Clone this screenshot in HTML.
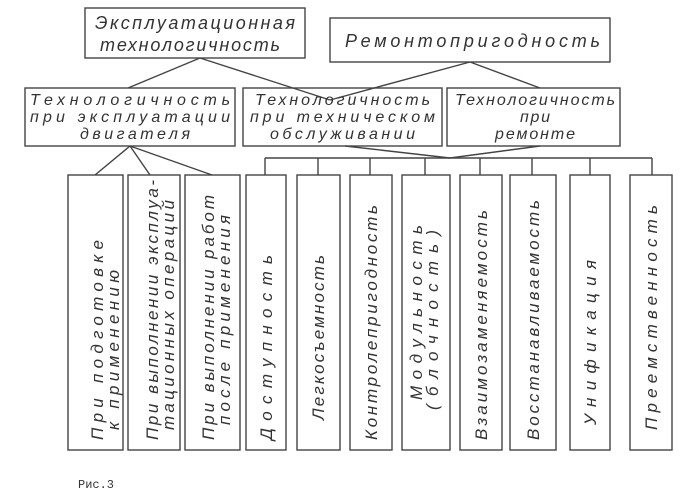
<!DOCTYPE html>
<html><head><meta charset="utf-8"><style>
body{margin:0;background:#fff;}
svg text{font-family:"Liberation Sans",sans-serif;font-style:italic;fill:#333;}
</style></head><body>
<svg width="695" height="493" viewBox="0 0 695 493" xmlns="http://www.w3.org/2000/svg">
<g fill="none" stroke="#444" stroke-width="1.4">
<rect x="85" y="8" width="220" height="50"/>
<rect x="330" y="18" width="280" height="44"/>
<rect x="25" y="88" width="210" height="58"/>
<rect x="243" y="88" width="199" height="58"/>
<rect x="447" y="88" width="173" height="58"/>
<path d="M200 58 L128 88 M200 58 L330 100 M470 62 L330 100 M470 62 L540 88"/>
<path d="M130 146 L95 175 M130 146 L150 175 M130 146 L212 175"/>
<path d="M345 146 L450 158 L540 146"/>
<path d="M265 158 L652 158"/>
<rect x="68" y="175" width="55" height="275"/>
<rect x="128" y="175" width="52" height="275"/>
<rect x="185" y="175" width="55" height="275"/>
<rect x="246" y="175" width="40" height="275"/>
<rect x="297" y="175" width="43" height="275"/>
<rect x="350" y="175" width="42" height="275"/>
<rect x="402" y="175" width="48" height="275"/>
<rect x="460" y="175" width="42" height="275"/>
<rect x="510" y="175" width="46" height="275"/>
<rect x="570" y="175" width="40" height="275"/>
<rect x="630" y="175" width="42" height="275"/>
<path d="M265 158V175M318 158V175M370 158V175M425 158V175M480 158V175M532 158V175M590 158V175M652 158V175"/>
</g>
<g font-size="18" lengthAdjust="spacing">
<text x="95" y="29" textLength="200" lengthAdjust="spacing">Эксплуатационная</text>
<text x="100" y="51" textLength="180" lengthAdjust="spacing">технологичность</text>
<text x="345" y="47" textLength="255" lengthAdjust="spacing">Ремонтопригодность</text>
</g>
<g font-size="16">
<text x="30" y="105" textLength="200" lengthAdjust="spacing">Технологичность</text>
<text x="30" y="122" textLength="200" lengthAdjust="spacing">при эксплуатации</text>
<text x="80" y="139" textLength="110" lengthAdjust="spacing">двигателя</text>
<text x="255" y="105" textLength="175" lengthAdjust="spacing">Технологичность</text>
<text x="250" y="122" textLength="185" lengthAdjust="spacing">при техническом</text>
<text x="270" y="139" textLength="145" lengthAdjust="spacing">обслуживании</text>
<text x="455" y="105" textLength="160" lengthAdjust="spacing">Технологичность</text>
<text x="520" y="122" textLength="30" lengthAdjust="spacing">при</text>
<text x="495" y="139" textLength="80" lengthAdjust="spacing">ремонте</text>
</g>
<g font-size="17">
<text transform="translate(103,440) rotate(-90)" textLength="200" lengthAdjust="spacing">При   подготовке</text>
<text transform="translate(119,430) rotate(-90)" textLength="160" lengthAdjust="spacing">к   применению</text>
<text transform="translate(158,440) rotate(-90)" textLength="260" lengthAdjust="spacing">При выполнении эксплуа-</text>
<text transform="translate(174,430) rotate(-90)" textLength="230" lengthAdjust="spacing">тационных операций</text>
<text transform="translate(214,440) rotate(-90)" textLength="245" lengthAdjust="spacing">При выполнении работ</text>
<text transform="translate(230,425) rotate(-90)" textLength="210" lengthAdjust="spacing">после применения</text>
<text transform="translate(272,440) rotate(-90)" textLength="185" lengthAdjust="spacing">Доступность</text>
<text transform="translate(324,420) rotate(-90)" textLength="165" lengthAdjust="spacing">Легкосъемность</text>
<text transform="translate(377,440) rotate(-90)" textLength="235" lengthAdjust="spacing">Контролепригодность</text>
<text transform="translate(422,400) rotate(-90)" textLength="175" lengthAdjust="spacing">Модульность</text>
<text transform="translate(438,410) rotate(-90)" textLength="180" lengthAdjust="spacing">(блочность)</text>
<text transform="translate(487,440) rotate(-90)" textLength="230" lengthAdjust="spacing">Взаимозаменяемость</text>
<text transform="translate(539,440) rotate(-90)" textLength="240" lengthAdjust="spacing">Восстанавливаемость</text>
<text transform="translate(596,425) rotate(-90)" textLength="165" lengthAdjust="spacing">Унификация</text>
<text transform="translate(657,430) rotate(-90)" textLength="225" lengthAdjust="spacing">Преемственность</text>
</g>
<text x="78" y="488" font-size="12" style="font-family:'Liberation Mono',monospace;font-style:normal">Рис.3</text>
</svg>
</body></html>
